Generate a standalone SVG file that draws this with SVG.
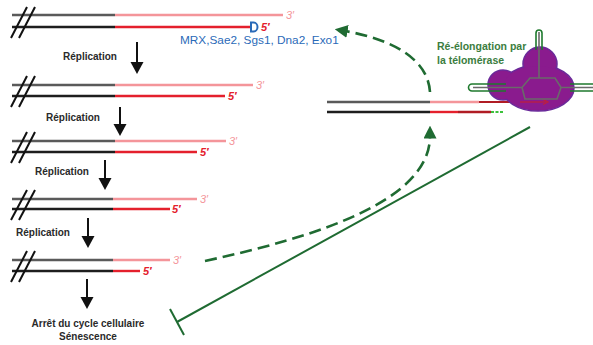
<svg xmlns="http://www.w3.org/2000/svg" width="593" height="345" viewBox="0 0 593 345">
  <style>
    .grey { stroke: #5a5a5a; stroke-width: 2.4; fill: none; }
    .blk { stroke: #1e1e1e; stroke-width: 2.4; fill: none; }
    .pink { stroke: #f4959a; stroke-width: 2.4; fill: none; }
    .red { stroke: #e4202c; stroke-width: 2.4; fill: none; }
    .slash { stroke: #111; stroke-width: 2; fill: none; }
    .lbl3 { font-family: "Liberation Sans", Arial, sans-serif; font-size: 11px; fill: #f4959a; font-style: italic; }
    .lbl5 { font-family: "Liberation Sans", Arial, sans-serif; font-size: 11px; fill: #e4202c; font-weight: bold; font-style: italic; }
    .rep { font-family: "Liberation Sans", Arial, sans-serif; font-size: 10px; fill: #2a2a2a; font-weight: bold; }
    .shaft { stroke: #111; stroke-width: 2; fill: none; }
    .head { fill: #111; }
    .grn { stroke: #1f6b32; stroke-width: 2.6; fill: none; }
    .dash { stroke-dasharray: 12 6; }
    .gtext { font-family: "Liberation Sans", Arial, sans-serif; font-size: 10.5px; fill: #3b7d3e; font-weight: bold; }
  </style>
  <defs>
    <marker id="gArrow" viewBox="0 0 10 10" refX="2" refY="5" markerWidth="5" markerHeight="5" orient="auto" markerUnits="strokeWidth">
      <path d="M0,0 L10,5 L0,10 z" fill="#1f6b32"/>
    </marker>
  </defs>
  <rect width="593" height="345" fill="#ffffff"/>

  <!-- telomere row 1 -->
  <g id="row1">
    <line class="grey" x1="12" y1="15" x2="115" y2="15"/>
    <line class="pink" x1="115" y1="15" x2="283" y2="15"/>
    <line class="blk" x1="12" y1="27" x2="115" y2="27"/>
    <line class="red" x1="115" y1="27" x2="250" y2="27"/>
    <line class="slash" x1="11" y1="38" x2="27" y2="7"/>
    <line class="slash" x1="19" y1="38" x2="35" y2="7"/>
    <path d="M251,22.5 h2.5 a4,4.5 0 0 1 0,9 h-2.5 z" fill="none" stroke="#2a6ab8" stroke-width="2"/>
    <text class="lbl3" x="286" y="19">3′</text>
    <text class="lbl5" x="261" y="31">5′</text>
    <text x="180" y="44" font-family="Liberation Sans, Arial, sans-serif" font-size="11.8px" fill="#2a6ab8">MRX,Sae2, Sgs1, Dna2, Exo1</text>
  </g>

  <g id="step1">
    <text class="rep" x="63" y="60">Réplication</text>
    <line class="shaft" x1="137" y1="42" x2="137" y2="64"/>
    <path class="head" d="M130.5,62 L143.5,62 L137,74 z"/>
  </g>

  <g id="row2">
    <line class="grey" x1="12" y1="85" x2="115" y2="85"/>
    <line class="pink" x1="115" y1="85" x2="253" y2="85"/>
    <line class="blk" x1="12" y1="96" x2="115" y2="96"/>
    <line class="red" x1="115" y1="96" x2="225" y2="96"/>
    <line class="slash" x1="11" y1="107" x2="27" y2="76"/>
    <line class="slash" x1="19" y1="107" x2="35" y2="76"/>
    <text class="lbl3" x="256" y="89">3′</text>
    <text class="lbl5" x="228" y="100">5′</text>
  </g>

  <g id="step2">
    <text class="rep" x="46" y="121">Réplication</text>
    <line class="shaft" x1="120" y1="107" x2="120" y2="126"/>
    <path class="head" d="M113.5,124 L126.5,124 L120,136 z"/>
  </g>

  <g id="row3">
    <line class="grey" x1="12" y1="141" x2="115" y2="141"/>
    <line class="pink" x1="115" y1="141" x2="226" y2="141"/>
    <line class="blk" x1="12" y1="152" x2="115" y2="152"/>
    <line class="red" x1="115" y1="152" x2="197" y2="152"/>
    <line class="slash" x1="11" y1="163" x2="27" y2="132"/>
    <line class="slash" x1="19" y1="163" x2="35" y2="132"/>
    <text class="lbl3" x="229" y="145">3′</text>
    <text class="lbl5" x="200" y="156">5′</text>
  </g>

  <g id="step3">
    <text class="rep" x="35" y="175">Réplication</text>
    <line class="shaft" x1="105" y1="160" x2="105" y2="180"/>
    <path class="head" d="M98.5,178 L111.5,178 L105,190 z"/>
  </g>

  <g id="row4">
    <line class="grey" x1="12" y1="199" x2="113" y2="199"/>
    <line class="pink" x1="113" y1="199" x2="197" y2="199"/>
    <line class="blk" x1="12" y1="209" x2="113" y2="209"/>
    <line class="red" x1="113" y1="209" x2="170" y2="209"/>
    <line class="slash" x1="11" y1="220" x2="27" y2="190"/>
    <line class="slash" x1="19" y1="220" x2="35" y2="190"/>
    <text class="lbl3" x="200" y="203">3′</text>
    <text class="lbl5" x="172" y="213">5′</text>
  </g>

  <g id="step4">
    <text class="rep" x="16" y="236">Réplication</text>
    <line class="shaft" x1="88" y1="218" x2="88" y2="238"/>
    <path class="head" d="M81.5,236 L94.5,236 L88,248 z"/>
  </g>

  <g id="row5">
    <line class="grey" x1="12" y1="260" x2="113" y2="260"/>
    <line class="pink" x1="113" y1="260" x2="170" y2="260"/>
    <line class="blk" x1="12" y1="271" x2="113" y2="271"/>
    <line class="red" x1="113" y1="271" x2="140" y2="271"/>
    <line class="slash" x1="11" y1="282" x2="27" y2="251"/>
    <line class="slash" x1="19" y1="282" x2="35" y2="251"/>
    <text class="lbl3" x="173" y="264">3′</text>
    <text class="lbl5" x="143" y="275">5′</text>
  </g>

  <g id="step5">
    <line class="shaft" x1="87" y1="279" x2="87" y2="299"/>
    <path class="head" d="M80.5,297 L93.5,297 L87,309 z"/>
    <text class="rep" x="88" y="327" text-anchor="middle">Arrêt du cycle cellulaire</text>
    <text class="rep" x="88" y="340" text-anchor="middle">Sénescence</text>
  </g>

  <!-- elongated telomere with telomerase -->
  <g id="telomerase">
    <line class="grey" x1="327" y1="102" x2="430" y2="102"/>
    <line class="pink" x1="430" y1="102" x2="479" y2="102"/>
    <line stroke="#b01c24" stroke-width="2.2" x1="479" y1="102" x2="546" y2="102"/>
    <line class="blk" x1="327" y1="112" x2="430" y2="112"/>
    <line class="red" x1="430" y1="112" x2="458" y2="112"/>
    <line stroke="#b01c24" stroke-width="2.4" x1="458" y1="112" x2="491" y2="112"/>
    <line stroke="#3cc23c" stroke-width="2" stroke-dasharray="3 1.5" x1="491" y1="112" x2="503" y2="112"/>
    <g fill="#8a1b8e" stroke="#6a2a9a" stroke-width="1.5">
      <circle cx="503" cy="85" r="15"/>
      <circle cx="540" cy="64" r="17"/>
      <ellipse cx="538" cy="88" rx="36" ry="23"/>
    </g>
    <g fill="#8a1b8e">
      <circle cx="503" cy="85" r="14"/>
      <circle cx="540" cy="64" r="16"/>
      <ellipse cx="538" cy="88" rx="35" ry="22"/>
    </g>
    <line stroke="#c0203a" stroke-width="1.2" x1="520" y1="102" x2="546" y2="102"/>
    <path d="M543,99.5 L548,102 L543,104.5" fill="none" stroke="#c0203a" stroke-width="1.2"/>
    <!-- RNA template outline -->
    <path d="M506,84 H472 a3.5,3.5 0 0 0 0,7 H506" fill="none" stroke="#1f7a2e" stroke-width="1.6"/>
    <path d="M570,84 H593 M570,91 H593" fill="none" stroke="#1f7a2e" stroke-width="1.6"/>
    <path d="M536,50 V33 a3,3 0 0 1 6,0 V50" fill="none" stroke="#1f7a2e" stroke-width="1.6"/>
    <path d="M473,87.5 H522 L530,78 H539 V32 M539,78 H555 L561,87.5 H593" fill="none" stroke="#6a6a6a" stroke-width="1.6"/>
    <path d="M522,87.5 L525,99 H557 L561,87.5" fill="none" stroke="#6a6a6a" stroke-width="1.6"/>
    <text class="gtext" x="437" y="50">Ré-élongation par</text>
    <text class="gtext" x="437" y="64">la télomérase</text>
  </g>

  <!-- connectors -->
  <g id="connectors">
    <path class="grn dash" d="M205,261 C320,236 430,200 430,136" marker-end="url(#gArrow)"/>
    <path class="grn dash" d="M430,92 C428,60 395,40 345,31" marker-end="url(#gArrow)"/>
    <line stroke="#1f6b32" stroke-width="2" x1="530" y1="127" x2="177" y2="322"/>
    <line stroke="#1f6b32" stroke-width="2" x1="170" y1="309" x2="184" y2="335"/>
  </g>
</svg>
